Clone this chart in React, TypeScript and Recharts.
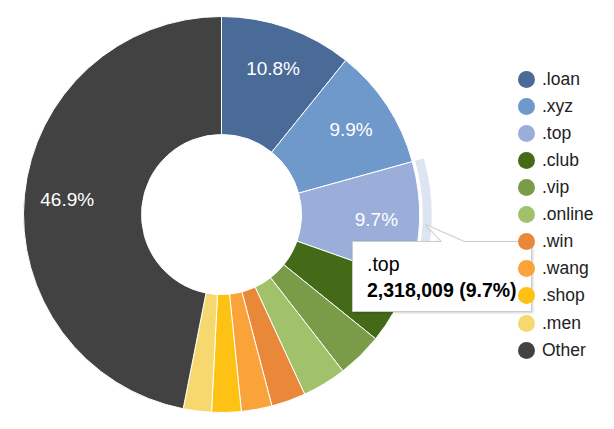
import React from "react";
import { PieChart, Pie, Cell } from "recharts";

const names = [".loan", ".xyz", ".top", ".club", ".vip", ".online", ".win", ".wang", ".shop", ".men", "Other"];
const values = [2580876, 2365803, 2318009, 1290438, 884189, 860292, 669116, 597425, 573528, 549631, 11207693];
const colors = ["#4a6a98", "#6f98cb", "#9aaed9", "#446a17", "#7a9c48", "#a1c26b", "#ea8839", "#f9a33a", "#fdc213", "#f6d86e", "#424242"];
const highlighted = ".top";

const data = names.map((name, i) => ({ name, value: values[i] }));
const total = values.reduce((a, b) => a + b, 0);

const FONT = "Arial, 'Liberation Sans', sans-serif";
const RAD = Math.PI / 180;

const renderLabel = (props: any) => {
  const { cx, cy, midAngle, percent } = props;
  if (percent < 0.09) return null;
  const r = 155;
  const x = cx + r * Math.cos(-midAngle * RAD);
  const y = cy + r * Math.sin(-midAngle * RAD);
  return (
    <text x={x} y={y} fill="#ffffff" textAnchor="middle" dominantBaseline="central" fontSize={19} fontFamily={FONT}>
      {(percent * 100).toFixed(1) + "%"}
    </text>
  );
};

export default function App() {
  const hi = names.indexOf(highlighted);
  const hiValue = values[hi];
  const hiPct = ((hiValue / total) * 100).toFixed(1);
  return (
    <div style={{ position: "absolute", left: 0, top: 0, width: 614, height: 429, background: "#fff", fontFamily: FONT }}>
      <PieChart width={614} height={429} margin={{ top: 0, right: 0, bottom: 0, left: 0 }}>
        <Pie
          data={data}
          dataKey="value"
          nameKey="name"
          cx={221.5}
          cy={214.5}
          innerRadius={201}
          outerRadius={210}
          startAngle={90}
          endAngle={-270}
          stroke="none"
          isAnimationActive={false}
          label={false}
          labelLine={false}
        >
          {data.map((d, i) => (
            <Cell key={"h" + i} fill={d.name === highlighted ? "#dde4f2" : "transparent"} />
          ))}
        </Pie>
        <Pie
          data={data}
          dataKey="value"
          nameKey="name"
          cx={221.5}
          cy={214.5}
          innerRadius={80}
          outerRadius={198}
          startAngle={90}
          endAngle={-270}
          stroke="#ffffff"
          strokeWidth={1}
          isAnimationActive={false}
          label={renderLabel}
          labelLine={false}
        >
          {data.map((d, i) => (
            <Cell key={"c" + i} fill={colors[i]} />
          ))}
        </Pie>
      </PieChart>

      <svg width={614} height={429} style={{ position: "absolute", left: 0, top: 0, pointerEvents: "none" }}>
        <defs>
          <filter id="sh" x="-10%" y="-10%" width="130%" height="140%">
            <feDropShadow dx="1" dy="1" stdDeviation="1.2" floodColor="#000" floodOpacity="0.18" />
          </filter>
        </defs>
        <path
          d="M352.5,241.5 L441.5,241.5 L425.5,224.5 L464,241.5 L531.5,241.5 L531.5,311.5 L352.5,311.5 Z"
          fill="#ffffff"
          stroke="#cccccc"
          strokeWidth={1}
          filter="url(#sh)"
        />
        <text x={367} y={271} fontSize={19.5} fontFamily={FONT} fill="#000">
          {highlighted}
        </text>
        <text x={367} y={296.5} fontSize={19.5} fontWeight="bold" fontFamily={FONT} fill="#000">
          {hiValue.toLocaleString("en-US") + " (" + hiPct + "%)"}
        </text>
      </svg>

      <div style={{ position: "absolute", left: 518, top: 65.7 }}>
        {names.map((n, i) => (
          <div key={n} style={{ display: "flex", alignItems: "center", height: 27.1 }}>
            <div style={{ width: 17, height: 17, borderRadius: "50%", background: colors[i], marginRight: 7, flex: "none" }} />
            <span style={{ fontSize: 17.5, color: "#222", fontFamily: FONT, whiteSpace: "nowrap" }}>{n}</span>
          </div>
        ))}
      </div>
    </div>
  );
}
